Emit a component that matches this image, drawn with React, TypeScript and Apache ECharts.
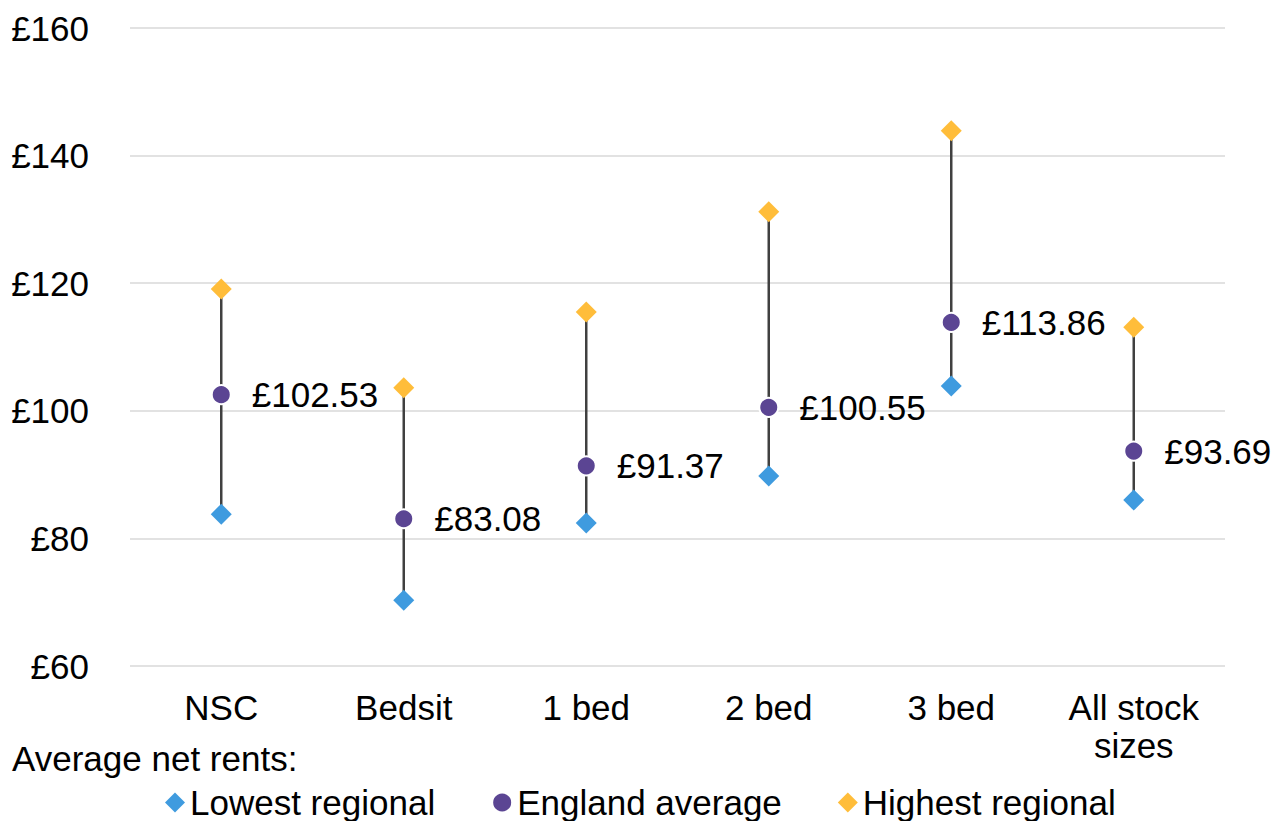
import React, { useEffect, useRef } from "react";
import * as echarts from "echarts";

const categories = ["NSC", "Bedsit", "1 bed", "2 bed", "3 bed", "All stock\nsizes"];
const lowestRegional = [83.8, 70.3, 82.4, 89.8, 103.9, 86.0];
const englandAverage = [102.53, 83.08, 91.37, 100.55, 113.86, 93.69];
const highestRegional = [119.1, 103.6, 115.5, 131.2, 143.9, 113.1];
const yTicks = { min: 60, max: 160, interval: 20 };

const FONT = "'Liberation Sans', Arial, sans-serif";
const FS = 35;

export default function App() {
  const ref = useRef<HTMLDivElement>(null);
  useEffect(() => {
    if (!ref.current) return;
    const chart = echarts.init(ref.current, undefined, { renderer: "svg" });
    const rangeData = categories.map((_, i) => [i, lowestRegional[i], highestRegional[i]]);
    chart.setOption({
      animation: false,
      textStyle: { fontFamily: FONT },
      grid: { left: 130, right: 49, top: 28, bottom: 155, containLabel: false },
      title: {
        text: "Average net rents:",
        left: 12,
        top: 741,
        padding: 0,
        textStyle: { fontFamily: FONT, fontSize: FS, fontWeight: "normal", color: "#000" },
      },
      legend: {
        data: ["Lowest regional", "England average", "Highest regional"],
        left: 165,
        top: 785,
        padding: 0,
        itemWidth: 20,
        itemHeight: 20,
        itemGap: 56,
        textStyle: { fontFamily: FONT, fontSize: FS, color: "#000" },
      },
      xAxis: {
        type: "category",
        data: categories,
        boundaryGap: true,
        axisLine: { show: false },
        axisTick: { show: false },
        axisLabel: {
          fontFamily: FONT,
          fontSize: FS,
          color: "#000",
          margin: 22,
          lineHeight: 38,
          interval: 0,
        },
      },
      yAxis: {
        type: "value",
        min: yTicks.min,
        max: yTicks.max,
        interval: yTicks.interval,
        axisLine: { show: false },
        axisTick: { show: false },
        splitLine: { lineStyle: { color: "#d9d9d9", width: 1.5 } },
        axisLabel: {
          fontFamily: FONT,
          fontSize: FS,
          color: "#000",
          margin: 41,
          formatter: (v: number) => "£" + v,
        },
      },
      series: [
        {
          type: "custom",
          name: "range",
          data: rangeData,
          z: 1,
          renderItem: (params: any, api: any) => {
            const x = api.value(0);
            const p1 = api.coord([x, api.value(1)]);
            const p2 = api.coord([x, api.value(2)]);
            return {
              type: "line",
              shape: { x1: p1[0], y1: p1[1], x2: p2[0], y2: p2[1] },
              style: { stroke: "#404040", lineWidth: 2.5 },
            };
          },
          encode: { x: 0, y: [1, 2] },
        },
        {
          type: "scatter",
          name: "Lowest regional",
          data: lowestRegional,
          symbol: "diamond",
          symbolSize: 21,
          itemStyle: { color: "#3F9BDF", opacity: 1 },
          z: 3,
        },
        {
          type: "scatter",
          name: "England average",
          data: englandAverage,
          symbol: "circle",
          symbolSize: 19,
          itemStyle: { color: "#5B4593", borderColor: "#fff", borderWidth: 2, opacity: 1 },
          z: 3,
          label: {
            show: true,
            position: "right",
            distance: 20,
            fontFamily: FONT,
            fontSize: FS,
            color: "#000",
            formatter: (p: any) => "£" + Number(p.value).toFixed(2),
          },
        },
        {
          type: "scatter",
          name: "Highest regional",
          data: highestRegional,
          symbol: "diamond",
          symbolSize: 21,
          itemStyle: { color: "#FFBD3A", opacity: 1 },
          z: 3,
        },
      ],
    });
    return () => chart.dispose();
  }, []);
  return (
    <div
      ref={ref}
      style={{ position: "fixed", left: 0, top: 0, width: 1274, height: 821, background: "#fff" }}
    />
  );
}
